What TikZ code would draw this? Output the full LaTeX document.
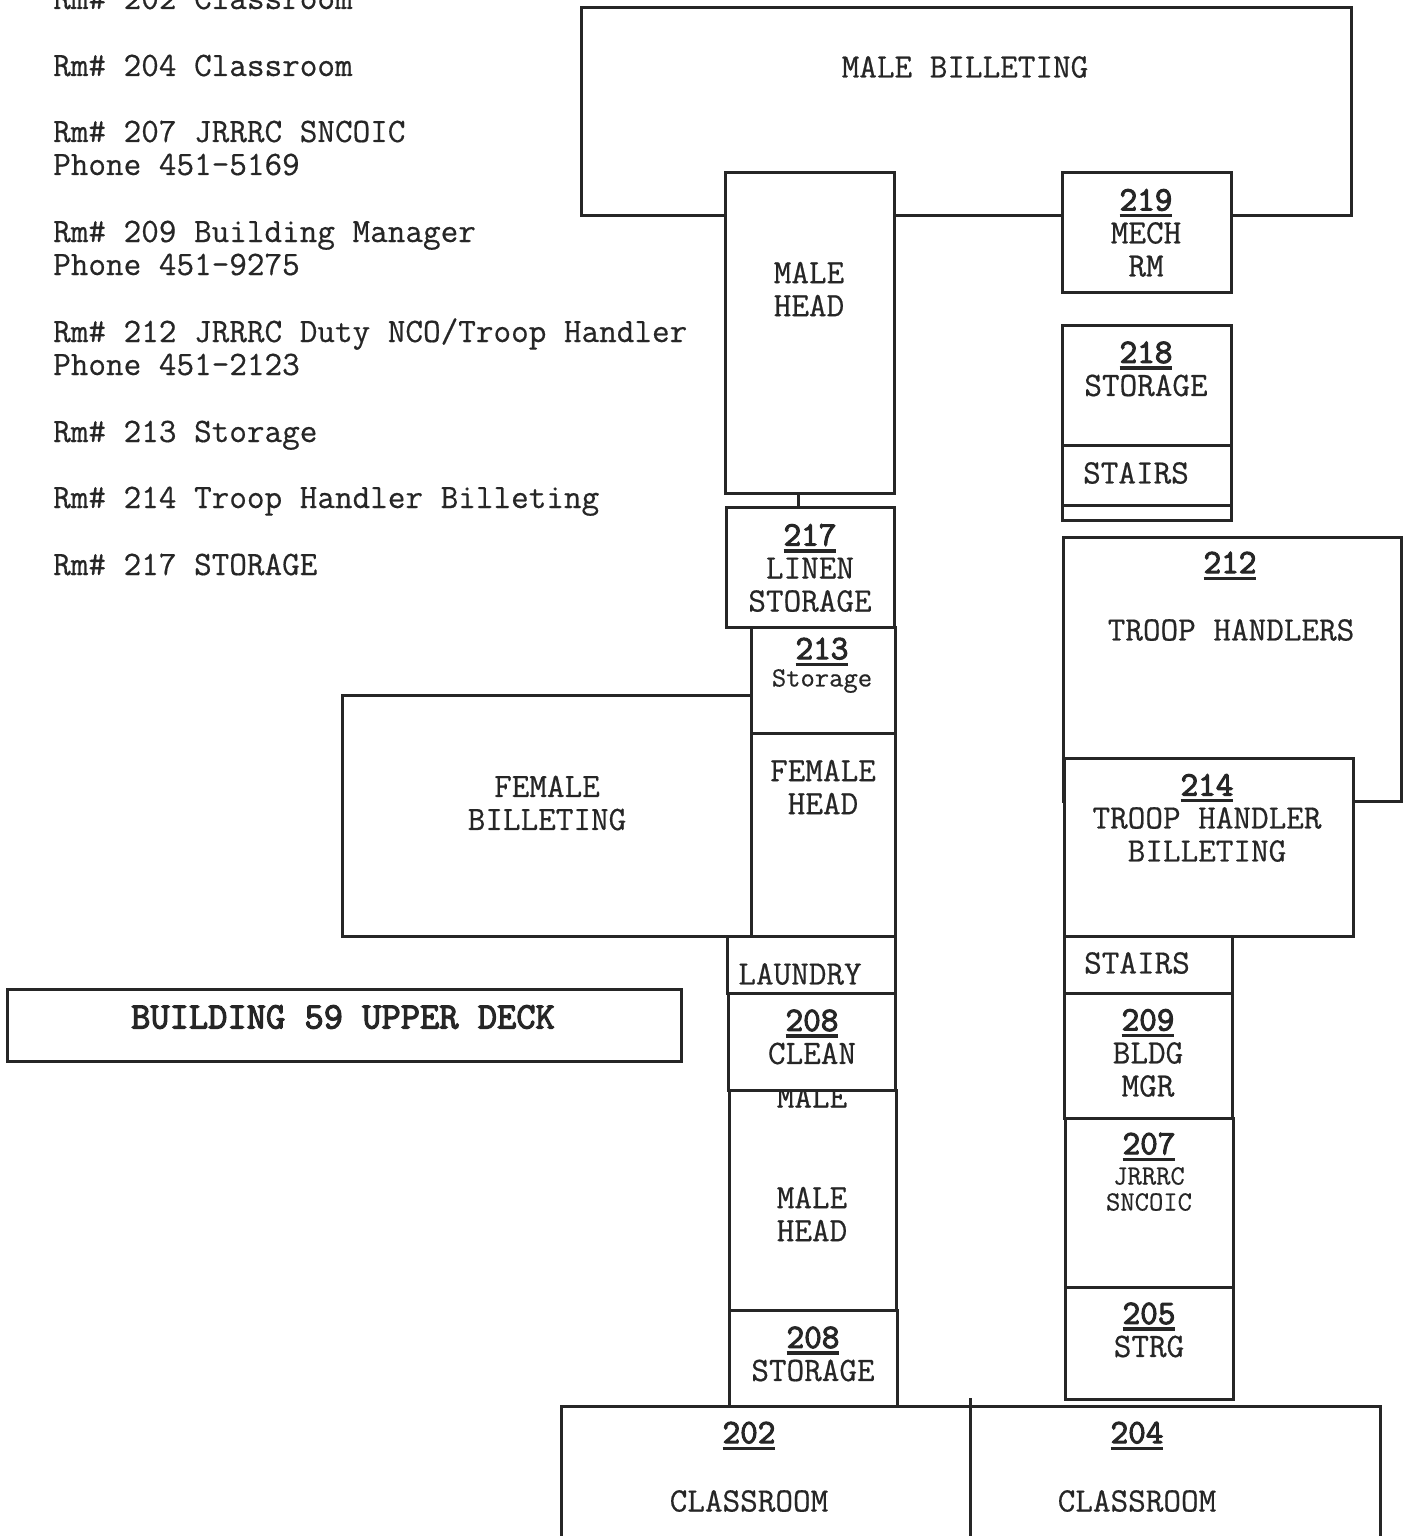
\documentclass[tikz,border=0pt]{standalone}
\usepackage{fontspec}
\setmonofont{Latin Modern Mono}[FakeBold=0.5]
\newfontface\boldtt{Latin Modern Mono}[FakeBold=3]

\newcommand{\rnum}[1]{{\boldtt\setbox0=\hbox{#1}\rlap{\rule[-7pt]{\wd0}{3.5pt}}\box0}}

\begin{document}
\begin{tikzpicture}[x=1pt,y=-1pt,
		room/.style={rectangle,draw=black!85,fill=white,line width=3pt,inner sep=0pt},
		lbl/.style={inner sep=0pt,align=center,text=black!85,font=\ttfamily\fontsize{34.2}{33}\selectfont},
		lblsmall/.style={lbl,font=\ttfamily\fontsize{27.8}{26}\selectfont},
		note/.style={lbl,anchor=base west,align=left}]
		\useasboundingbox (0,0) rectangle (1406,1536);

		% room list
		\node (rm202) [note] at (53,9) {Rm\# 202 Classroom};
		\node (rm204) [note] at (53,76) {Rm\# 204 Classroom};
		\node (rm207) [note] at (53,142) {Rm\# 207 JRRRC SNCOIC};
		\node (ph207) [note] at (53,175) {Phone 451-5169};
		\node (rm209) [note] at (53,242) {Rm\# 209 Building Manager};
		\node (ph209) [note] at (53,275) {Phone 451-9275};
		\node (rm212) [note] at (53,342) {Rm\# 212 JRRRC Duty NCO/Troop Handler};
		\node (ph212) [note] at (53,375) {Phone 451-2123};
		\node (rm213) [note] at (53,442) {Rm\# 213 Storage};
		\node (rm214) [note] at (53,508) {Rm\# 214 Troop Handler Billeting};
		\node (rm217) [note] at (53,575) {Rm\# 217 STORAGE};

		% title
		\node (title) [room,minimum width=674pt,minimum height=72pt] at (344,1025) {};
		\node (titletxt) [lbl,font=\boldtt\fontsize{37.4}{36}\selectfont] at (343,1017) {BUILDING 59 UPPER DECK};

		% north end
		\node (billetm) [room,minimum width=770pt,minimum height=207pt] at (966,111.5) {};
		\node (billetmtxt) [lbl] at (965,67) {MALE BILLETING};
		\node (headm) [room,minimum width=169pt,minimum height=321pt] at (809.5,332.5) {};
		\node (headmtxt) [lbl] at (809,289) {MALE\\HEAD};
		\node (mech) [room,minimum width=169pt,minimum height=120pt] at (1146.5,232) {};
		\node (mechtxt) [lbl] at (1146,233) {\rnum{219}\\MECH\\RM};

		% east wing
		\node (stor218) [room,minimum width=169pt,minimum height=120pt] at (1146.5,385) {};
		\node (stor218txt) [lbl] at (1146,369) {\rnum{218}\\STORAGE};
		\node (stairsn) [room,minimum width=169pt,minimum height=60pt] at (1146.5,475) {};
		\node (stairsntxt) [lbl] at (1136,473) {STAIRS};
		\node (sliver) [room,minimum width=169pt,minimum height=15pt] at (1146.5,512.5) {};
		\node (troop) [room,minimum width=338pt,minimum height=264pt] at (1232,669) {};
		\node (troopnum) [lbl] at (1230,566) {\rnum{212}};
		\node (trooptxt) [lbl] at (1231,630) {TROOP HANDLERS};
		\node (tbillet) [room,minimum width=289pt,minimum height=178pt] at (1208.5,847) {};
		\node (tbillettxt) [lbl] at (1207,818) {\rnum{214}\\TROOP HANDLER\\BILLETING};
		\node (stairss) [room,minimum width=168pt,minimum height=57pt] at (1148.5,964.5) {};
		\node (stairsstxt) [lbl] at (1137,963) {STAIRS};
		\node (bldg) [room,minimum width=168pt,minimum height=125pt] at (1148.5,1055.5) {};
		\node (bldgtxt) [lbl] at (1148,1053) {\rnum{209}\\BLDG\\MGR};
		\node (snco) [room,minimum width=168pt,minimum height=169pt] at (1149,1202.5) {};
		\node (sncotxt) [lbl] at (1149,1147) {\rnum{207}};
		\node (snconame) [lblsmall] at (1149,1189) {JRRRC\\SNCOIC};
		\node (strg) [room,minimum width=168pt,minimum height=112pt] at (1149,1343) {};
		\node (strgtxt) [lbl] at (1149,1330) {\rnum{205}\\STRG};

		% west wing
		\node (linen) [room,minimum width=168pt,minimum height=120pt] at (810,567) {};
		\node (linentxt) [lbl] at (810,568) {\rnum{217}\\LINEN\\STORAGE};
		\node (stor213) [room,minimum width=144pt,minimum height=106pt] at (823,680) {};
		\node (stor213num) [lbl] at (822,652) {\rnum{213}};
		\node (stor213txt) [lblsmall] at (822,681) {Storage};
		\node (billetf) [room,minimum width=409pt,minimum height=241pt] at (546.5,815.5) {};
		\node (billetftxt) [lbl] at (547,803) {FEMALE\\BILLETING};
		\node (headf) [room,minimum width=144pt,minimum height=203pt] at (823,834.5) {};
		\node (headftxt) [lbl] at (823,787) {FEMALE\\HEAD};
		\node (laundry) [room,minimum width=168pt,minimum height=57pt] at (811,964.5) {};
		\node (laundrytxt) [lbl] at (800,974) {LAUNDRY};
		\node (heads) [room,minimum width=167pt,minimum height=220pt] at (812.5,1200) {};
		\node (headscut) [lbl] at (812,1097) {MALE};
		\node (headstxt) [lbl] at (812,1214) {MALE\\HEAD};
		\node (clean) [room,minimum width=167pt,minimum height=97pt] at (811.5,1041.5) {};
		\node (cleantxt) [lbl] at (812,1037) {\rnum{208}\\CLEAN};
		\node (stor208) [room,minimum width=168pt,minimum height=96pt] at (813,1358) {};
		\node (stor208txt) [lbl] at (813,1354) {\rnum{208}\\STORAGE};

		% classrooms run off the page
		\node (classa) [room,minimum width=409pt,minimum height=160pt] at (765.5,1486) {};
		\node (classanum) [lbl] at (749,1436) {\rnum{202}};
		\node (classatxt) [lbl] at (749,1501) {CLASSROOM};
		\node (classb) [room,minimum width=410pt,minimum height=160pt] at (1175,1486) {};
		\node (classbnum) [lbl] at (1137,1436) {\rnum{204}};
		\node (classbtxt) [lbl] at (1137,1501) {CLASSROOM};

		% short joins
		\coordinate (stub) at (798,500);
		\draw[draw=black!85,line width=3pt] (stub |- headm.south) -- (stub |- linen.north);
		\coordinate (tick) at (970,1398);
		\draw[draw=black!85,line width=3pt] (tick) -- (tick |- classa.north);
	\end{tikzpicture}
\end{document}
